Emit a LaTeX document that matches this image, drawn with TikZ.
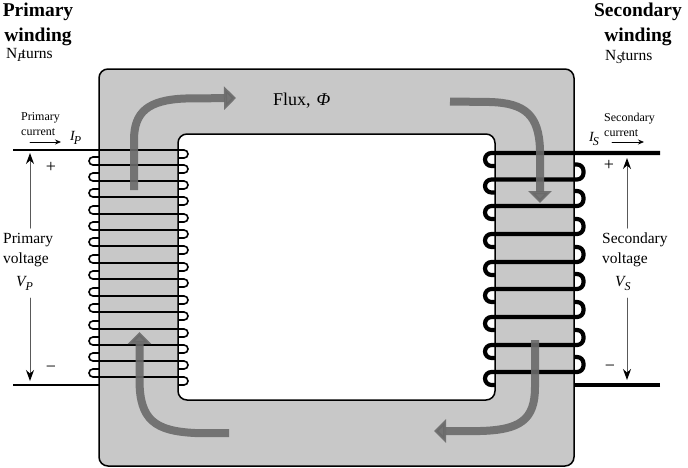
\documentclass[tikz,border=0pt]{standalone}
\usepackage{fontspec}
\usepackage{tikz}
\usepackage{tkz-euclide}
\usepackage{xcolor}
\usetikzlibrary{arrows.meta}
\setmainfont{Liberation Serif}
\definecolor{coregray}{HTML}{C8C8C8}
\definecolor{fluxgray}{HTML}{6A6A6A}
\newcommand{\subI}[2]{\textit{#1}\kern-1.5pt\raisebox{-4pt}{\fontsize{12}{12}\selectfont\textit{#2}}}
\tikzset{
	core/.style={draw=black,line width=1.5pt,fill=coregray,even odd rule,rounded corners=9pt},
	thinwire/.style={line width=1.6pt,rounded corners=4pt},
	thickwire/.style={line width=4.2pt,rounded corners=6.5pt},
	fluxarrow/.style={draw=fluxgray,opacity=.9,line width=8pt,-{Triangle[width=23pt,length=12pt]}},
	voltarrow/.style={draw=black!65,line width=1pt,-{Stealth[black,width=8pt,length=11pt]}},
	currentarrow/.style={line width=.8pt,-{Stealth[width=5pt,length=6pt]}},
	txt/.style={inner sep=0pt,align=left,anchor=west},
	titletxt/.style={inner sep=0pt,align=center,font=\fontsize{19.5}{25}\selectfont\bfseries},
	turnstxt/.style={txt,font=\fontsize{15.5}{17}\selectfont},
	smalltxt/.style={txt,font=\fontsize{12}{15}\selectfont},
	voltstxt/.style={txt,font=\fontsize{15.5}{20}\selectfont},
	symtxt/.style={inner sep=0pt,font=\fontsize{18}{18}\selectfont},
	currtxt/.style={txt,font=\fontsize{14}{16}\selectfont},
}
\begin{document}
\begin{tikzpicture}[x=1pt,y=-1pt]
	\useasboundingbox (0,0) rectangle (688,467);
	\draw[core] (99,69) rectangle (574,466) (178,134) rectangle (495,400);

	\tkzDefPoints{13/150/PwireA,188/150/PwireB,13/385/PwireC,99/385/PwireD}
	\tkzDefPoints{660/153/SwireA,660/385/SwireB,574/385/SwireC}
	\tkzDefPoints{30/228/VpA,30/153/VpB,30/298/VpC,30/381/VpD}
	\tkzDefPoints{627/228/VsA,627/158/VsB,627/298/VsC,627/380/VsD}
	\tkzDefPoints{30/142/IpA,61/142/IpB,612/142/IsA,644/142/IsB}

	% primary turns
	\draw[thinwire] (PwireA) -- (PwireB) -- (188,158) -- (178,158);
	\foreach \y in {165,181,197,214,230,246,263,279,296,312,329,345,361,377}
		\draw[thinwire] (99,\y-8) -- (89,\y-8) -- (89,\y) -- (188,\y) -- (188,\y+8) -- (178,\y+8);
	\draw[line width=1.6pt] (PwireC) -- (PwireD);

	% secondary turns
	\draw[thickwire] (SwireA) -- (485,153) -- (485,166) -- (495,166);
	\foreach \y in {179.5,206,234,262,289,317,345,372}
		\draw[thickwire] (574,\y-15) -- (583.5,\y-15) -- (583.5,\y) -- (485,\y) -- (485,\y+13) -- (495,\y+13);
	\draw[line width=4.2pt] (SwireB) -- (SwireC);

	% flux
	\draw[fluxarrow] (134,190) -- (134,140) .. controls (134,112) and (148,100) .. (185,98.5) -- (236,98);
	\draw[fluxarrow] (450,101.5) -- (490,102) .. controls (525,103) and (539,115) .. (540,150) -- (540,203);
	\draw[fluxarrow] (535,340) -- (535,387) .. controls (535,420) and (520,430) .. (480,431) -- (434,431);
	\draw[fluxarrow] (229,433) -- (195,433) .. controls (155,431) and (139.5,420) .. (139.5,380) -- (139.5,332);

	\tkzDrawSegments[voltarrow](VpA,VpB VpC,VpD VsA,VsB VsC,VsD)
	\tkzDrawSegments[currentarrow](IpA,IpB IsA,IsB)

	\node[titletxt] (ptitle) at (38,24) {Primary\\winding};
	\node[titletxt] (stitle) at (638,24) {Secondary\\winding};
	\node[turnstxt] (pturns) at (6,55) {N\raisebox{-3pt}{\fontsize{12}{12}\selectfont\textit{P}}\kern-3pt turns};
	\node[turnstxt] (sturns) at (605,57) {N\raisebox{-3pt}{\fontsize{12}{12}\selectfont\textit{S}}\kern-1pt turns};
	\node[smalltxt] (pcurrent) at (21,124.5) {Primary\\current};
	\node[smalltxt] (scurrent) at (604,124.5) {Secondary\\current};
	\node[currtxt] (ip) at (70,138) {\subI{I}{P}};
	\node[currtxt] (is) at (589,139) {\subI{I}{S}};
	\node[symtxt] (pplus) at (51,167) {+};
	\node[symtxt] (pminus) at (51,369) {\textminus};
	\node[symtxt] (splus) at (609,165) {+};
	\node[symtxt] (sminus) at (610,368) {\textminus};
	\node[voltstxt] (pvolt) at (3,250) {Primary\\voltage};
	\node[voltstxt] (svolt) at (602,250) {Secondary\\voltage};
	\node[voltstxt] (vp) at (16,283) {\subI{V}{P}};
	\node[voltstxt] (vs) at (615,283) {\subI{V}{S}};
	\node[voltstxt,font=\fontsize{18}{20}\selectfont] (flux) at (273,101) {Flux,\kern6pt\textit{Φ}};
\end{tikzpicture}
\end{document}
